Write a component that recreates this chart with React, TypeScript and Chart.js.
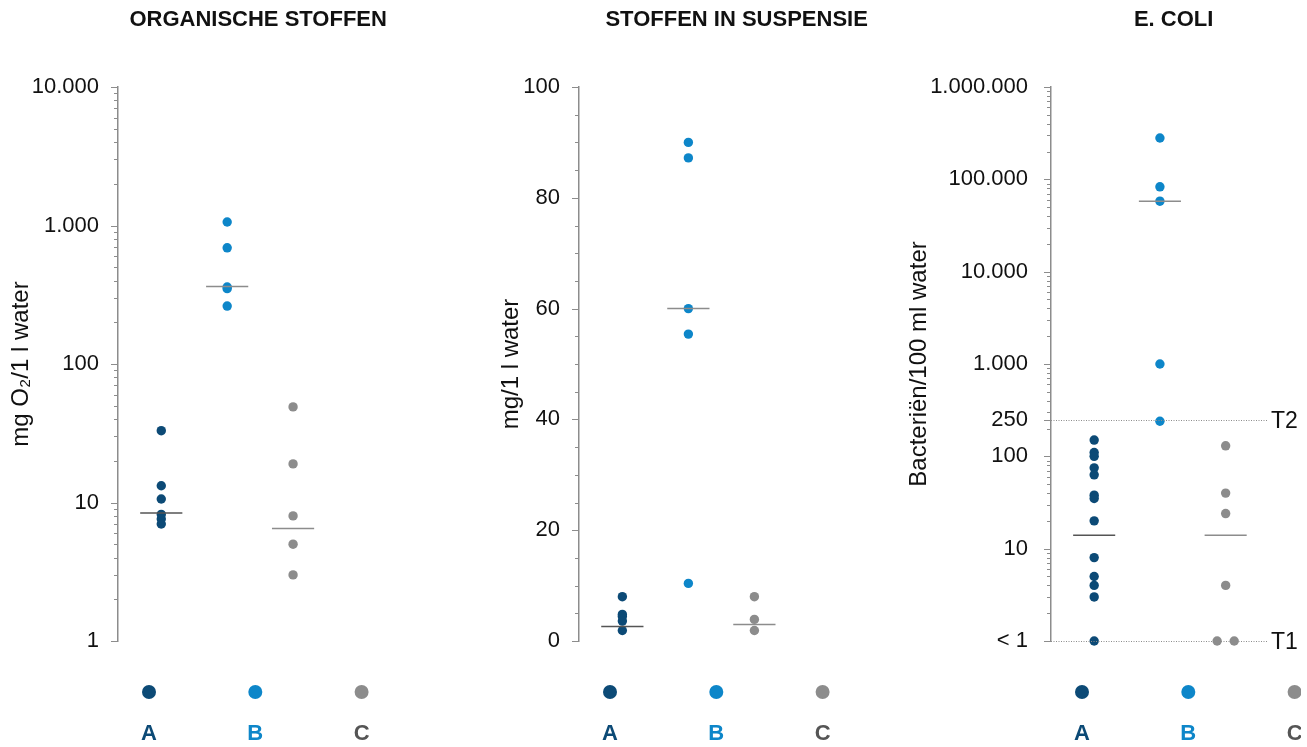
import React, { useEffect, useRef } from 'react';
import { Chart, registerables } from 'chart.js';

Chart.register(...registerables);

// ---------- shared ----------
const CATEGORIES = ['A', 'B', 'C'];
const DOT_COLORS = ['#0c4a76', '#0d86c9', '#8c8c8c'];
const LETTER_COLORS = ['#0c4a76', '#0d86c9', '#555555'];
const MEDIAN_COLORS = ['#555555', '#8c8c8c', '#8c8c8c'];

// ---------- panel 1: organische stoffen ----------
const ORG_TITLE = 'ORGANISCHE STOFFEN';
const ORG_AXIS_TITLE = 'mg O\u2082/1 l water';
const ORG_A = [33, 13.2, 10.6, 8.2, 7.6, 7.0];
const ORG_B = [1060, 690, 360, 350, 262];
const ORG_C = [49, 19, 8, 5, 3];
const ORG_MEDIANS = [8.4, 363, 6.5];
const ORG_TICK_VALUES = [1, 10, 100, 1000, 10000];
const ORG_TICK_LABELS = ['1', '10', '100', '1.000', '10.000'];

// ---------- panel 2: stoffen in suspensie ----------
const SUS_TITLE = 'STOFFEN IN SUSPENSIE';
const SUS_AXIS_TITLE = 'mg/1 l water';
const SUS_A = [8, 4.8, 4.4, 3.6, 1.9];
const SUS_B = [90, 87.2, 60, 55.4, 10.4];
const SUS_C = [8, 3.9, 1.9];
const SUS_MEDIANS = [2.6, 60, 3.0];
const SUS_TICK_VALUES = [0, 20, 40, 60, 80, 100];
const SUS_TICK_LABELS = ['0', '20', '40', '60', '80', '100'];

// ---------- panel 3: E. coli ----------
const ECO_TITLE = 'E. COLI';
const ECO_AXIS_TITLE = 'Bacteriën/100 ml water';
const ECO_A = [150, 110, 100, 75, 63, 38, 35, 20, 8, 5, 4, 3, 1];
const ECO_B = [280000, 83000, 58000, 1000, 240];
const ECO_C = [130, 40, 24, 4, 1, 1];
const ECO_C_JITTER = [0, 0, 0, 0, -0.13, 0.13];
const ECO_MEDIANS = [14, 58000, 14];
const ECO_TICK_VALUES = [1, 10, 100, 250, 1000, 10000, 100000, 1000000];
const ECO_TICK_LABELS = ['< 1', '10', '100', '250', '1.000', '10.000', '100.000', '1.000.000'];
const ECO_THRESHOLDS = [250, 1];
const ECO_THRESHOLD_LABELS = ['T2', 'T1'];

const FONT = "'Liberation Sans', Arial, Helvetica, sans-serif";
const AXIS_COLOR = '#8c8c8c';
const CAT_PX = 67; // px between categories
const FIRST_PX = 44; // px from axis to first category

function logTicks(min: number, max: number, extra: number[]) {
  const out: number[] = [];
  const e0 = Math.round(Math.log10(min));
  const e1 = Math.round(Math.log10(max));
  for (let e = e0; e < e1; e++) {
    for (let m = 1; m <= 9; m++) out.push(m * Math.pow(10, e));
  }
  out.push(max);
  extra.forEach((v) => out.push(v));
  return out.sort((a, b) => a - b);
}

type PanelDef = {
  title: string;
  axisTitle: string;
  type: 'logarithmic' | 'linear';
  min: number;
  max: number;
  series: number[][];
  jitter: number[][];
  medians: number[];
  tickValues: number[];
  tickLabels: string[];
  extraTicks: number[];
  thresholds: number[];
  thresholdLabels: string[];
  left: number;
  width: number;
  axisWidth: number;
  labelPad: number;
};

const PANELS: PanelDef[] = [
  {
    title: ORG_TITLE, axisTitle: ORG_AXIS_TITLE, type: 'logarithmic', min: 1, max: 10000,
    series: [ORG_A, ORG_B, ORG_C], jitter: [[], [], []], medians: ORG_MEDIANS,
    tickValues: ORG_TICK_VALUES, tickLabels: ORG_TICK_LABELS, extraTicks: [],
    thresholds: [], thresholdLabels: [],
    left: 0, width: 403, axisWidth: 118, labelPad: 19,
  },
  {
    title: SUS_TITLE, axisTitle: SUS_AXIS_TITLE, type: 'linear', min: 0, max: 100,
    series: [SUS_A, SUS_B, SUS_C], jitter: [[], [], []], medians: SUS_MEDIANS,
    tickValues: SUS_TICK_VALUES, tickLabels: SUS_TICK_LABELS, extraTicks: [],
    thresholds: [], thresholdLabels: [],
    left: 490, width: 409, axisWidth: 89, labelPad: 19,
  },
  {
    title: ECO_TITLE, axisTitle: ECO_AXIS_TITLE, type: 'logarithmic', min: 1, max: 1000000,
    series: [ECO_A, ECO_B, ECO_C], jitter: [[], [], ECO_C_JITTER], medians: ECO_MEDIANS,
    tickValues: ECO_TICK_VALUES, tickLabels: ECO_TICK_LABELS, extraTicks: [250],
    thresholds: ECO_THRESHOLDS, thresholdLabels: ECO_THRESHOLD_LABELS,
    left: 898, width: 403, axisWidth: 153, labelPad: 23,
  },
];

const decorPlugin = {
  id: 'decor',
  afterDraw(chart: any, _args: any, opts: any) {
    const { ctx, chartArea, scales } = chart;
    const y = scales.y;
    const ax = chartArea.left;
    ctx.save();
    // tick marks
    ctx.strokeStyle = AXIS_COLOR;
    ctx.lineWidth = 1;
    y.ticks.forEach((t: any) => {
      const py = Math.round(y.getPixelForValue(t.value)) + 0.5;
      const len = t.label ? 7 : 4;
      ctx.beginPath();
      ctx.moveTo(ax - len, py);
      ctx.lineTo(ax, py);
      ctx.stroke();
    });
    // threshold lines
    (opts.thresholds || []).forEach((v: number, i: number) => {
      const py = Math.round(y.getPixelForValue(v)) + 0.5;
      ctx.strokeStyle = '#8c8c8c';
      ctx.lineWidth = 1;
      ctx.setLineDash([1, 1.5]);
      ctx.beginPath();
      ctx.moveTo(ax, py);
      ctx.lineTo(ax + 217, py);
      ctx.stroke();
      ctx.setLineDash([]);
      ctx.fillStyle = '#111';
      ctx.font = `23px ${FONT}`;
      ctx.textAlign = 'left';
      ctx.textBaseline = 'middle';
      ctx.fillText(opts.thresholdLabels[i], ax + 220, py + 1);
    });
    // legend
    CATEGORIES.forEach((c, i) => {
      const lx = ax + 31 + 106.3 * i;
      ctx.fillStyle = DOT_COLORS[i];
      ctx.beginPath();
      ctx.arc(lx, chartArea.bottom + 51, 7, 0, Math.PI * 2);
      ctx.fill();
      ctx.fillStyle = LETTER_COLORS[i];
      ctx.font = `bold 22px ${FONT}`;
      ctx.textAlign = 'center';
      ctx.textBaseline = 'middle';
      ctx.fillText(c, lx, chartArea.bottom + 93);
    });
    ctx.restore();
  },
};

function buildConfig(p: PanelDef): any {
  const datasets: any[] = [];
  p.medians.forEach((m, i) => {
    datasets.push({
      type: 'line',
      data: [{ x: i - 0.32, y: m }, { x: i + 0.32, y: m }],
      borderColor: MEDIAN_COLORS[i],
      borderWidth: 1.5,
      pointRadius: 0,
      clip: false,
      order: 0,
    });
  });
  p.series.forEach((vals, i) => {
    datasets.push({
      type: 'scatter',
      data: vals.map((v, k) => ({ x: i + (p.jitter[i][k] || 0), y: v })),
      backgroundColor: DOT_COLORS[i],
      borderWidth: 0,
      pointRadius: 4.7,
      pointHoverRadius: 4.7,
      clip: false,
      order: 1,
    });
  });
  const xMin = -FIRST_PX / CAT_PX;
  const xMax = (p.width - p.axisWidth - FIRST_PX) / CAT_PX;
  const labelFor = (v: number) => {
    const idx = p.tickValues.findIndex((t) => Math.abs(t - v) < 1e-9);
    return idx >= 0 ? p.tickLabels[idx] : '';
  };
  const yScale: any = {
    type: p.type,
    position: 'left',
    min: p.min,
    max: p.max,
    afterFit: (s: any) => {
      s.width = p.axisWidth;
    },
    grid: { display: true, drawOnChartArea: false, drawTicks: false, color: 'rgba(0,0,0,0)' },
    border: { display: true, color: AXIS_COLOR, width: 1.5 },
    ticks: {
      autoSkip: false,
      padding: p.labelPad,
      color: '#111',
      font: { size: 22, family: FONT },
      callback: (v: any) => labelFor(Number(v)),
    },
    title: {
      display: true,
      text: p.axisTitle,
      color: '#111',
      font: { size: 24, family: FONT },
      padding: { top: 7, bottom: 0 },
    },
  };
  if (p.type === 'logarithmic') {
    yScale.afterBuildTicks = (s: any) => {
      s.ticks = logTicks(p.min, p.max, p.extraTicks).map((v) => ({ value: v }));
    };
  } else {
    yScale.ticks.stepSize = 5;
  }
  return {
    type: 'scatter',
    data: { datasets },
    options: {
      animation: false,
      responsive: false,
      events: [],
      layout: { padding: { left: 0, right: 0, top: 0, bottom: 106 } },
      scales: {
        x: { type: 'linear', display: false, min: xMin, max: xMax },
        y: yScale,
      },
      plugins: {
        legend: { display: false },
        tooltip: { enabled: false },
        title: {
          display: true,
          text: p.title,
          fullSize: false,
          color: '#111',
          font: { size: 22, weight: 'bold', family: FONT },
          padding: { top: 6.8, bottom: 53.8 },
        },
        decor: { thresholds: p.thresholds, thresholdLabels: p.thresholdLabels },
      },
    },
    plugins: [decorPlugin],
  };
}

function PanelChart({ p }: { p: PanelDef }) {
  const ref = useRef<HTMLCanvasElement | null>(null);
  useEffect(() => {
    if (!ref.current) return;
    const chart = new Chart(ref.current, buildConfig(p));
    return () => chart.destroy();
  }, [p]);
  return (
    <canvas
      ref={ref}
      width={p.width}
      height={747}
      style={{ position: 'absolute', left: p.left, top: 0, width: p.width, height: 747 }}
    />
  );
}

export default function App() {
  return (
    <div style={{ position: 'absolute', left: 0, top: 0, width: 1307, height: 747, background: '#fff', overflow: 'hidden' }}>
      {PANELS.map((p, i) => (
        <PanelChart key={i} p={p} />
      ))}
    </div>
  );
}
